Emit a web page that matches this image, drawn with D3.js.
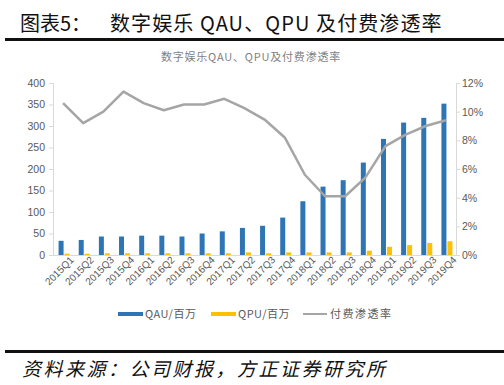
<!DOCTYPE html>
<html><head><meta charset="utf-8">
<script src="https://cdn.jsdelivr.net/npm/d3@7"></script>
<style>
body{margin:0;background:#fff;}
svg{display:block;}
</style></head>
<body>
<svg id="c" width="504" height="385"></svg>
<script>
const categories=["2015Q1","2015Q2","2015Q3","2015Q4","2016Q1","2016Q2","2016Q3","2016Q4","2017Q1","2017Q2","2017Q3","2017Q4","2018Q1","2018Q2","2018Q3","2018Q4","2019Q1","2019Q2","2019Q3","2019Q4"];
const qau=[33,35,43,43,45,45,43,50,55,63,68,87,125,159,174,215,270,308,319,352];
const qpu=[3,3,4,4,4,4,4,4,4,6,4,6,6,6,6,10,19,23,28,32];
const rate=[10.6,9.2,10.0,11.4,10.6,10.1,10.5,10.5,10.9,10.25,9.45,8.2,5.6,4.1,4.1,5.4,7.6,8.4,9.0,9.4];
const leftTicks=[0,50,100,150,200,250,300,350,400];
const rightTicks=[0,2,4,6,8,10,12];

const svg=d3.select("#c");
const font="'Noto Sans CJK SC','Liberation Sans',sans-serif";
const L=53,R=456,T=83,B=255;

// header
svg.append("text").attr("x",20).attr("y",31).attr("font-family",font).attr("font-size",20)
  .attr("fill","#111").text("图表5：");
svg.append("text").attr("x",110).attr("y",31).attr("font-family",font).attr("font-size",20)
  .attr("letter-spacing",1.1).attr("fill","#111").text("数字娱乐 QAU、QPU 及付费渗透率");
svg.append("rect").attr("x",5).attr("y",38).attr("width",499).attr("height",3).attr("fill","#111");

svg.append("text").attr("x",251).attr("y",61).attr("text-anchor","middle").attr("font-family",font)
  .attr("font-size",11).attr("letter-spacing",0.8).attr("fill","#7f7f7f").text("数字娱乐QAU、QPU及付费渗透率");

const x=d3.scaleBand().domain(categories).range([L,R]);
const y=d3.scaleLinear().domain([0,400]).range([B,T]);
const y2=d3.scaleLinear().domain([0,12]).range([B,T]);
const bw=5;

// axes
const gl=svg.append("g").attr("transform",`translate(${L},0)`)
  .call(d3.axisLeft(y).tickValues(leftTicks).tickSize(4).tickPadding(4));
gl.select(".domain").attr("stroke","#d9d9d9");
gl.selectAll(".tick line").attr("stroke","#d9d9d9");
gl.selectAll("text").attr("fill","#595959").attr("font-size",10.5).attr("font-family","'Liberation Sans',Arial,sans-serif");

const gr=svg.append("g").attr("transform",`translate(${R},0)`)
  .call(d3.axisRight(y2).tickValues(rightTicks).tickSize(4).tickPadding(2).tickFormat(d=>d+"%"));
gr.select(".domain").attr("stroke","#d9d9d9");
gr.selectAll(".tick line").attr("stroke","#d9d9d9");
gr.selectAll("text").attr("fill","#595959").attr("font-size",10.5).attr("font-family","'Liberation Sans',Arial,sans-serif");

const gx=svg.append("g").attr("transform",`translate(0,${B})`)
  .call(d3.axisBottom(x).tickSize(0).tickPadding(6));
gx.select(".domain").attr("stroke","#d9d9d9");
gx.selectAll("text").attr("fill","#595959").attr("font-size",10).attr("font-family","'Liberation Sans',Arial,sans-serif")
  .attr("text-anchor","end").attr("dx","0.4em").attr("dy","0.6em").attr("transform","rotate(-45)");

// bars
const cx=d=>x(d)+x.bandwidth()/2+1;
svg.append("g").selectAll("rect").data(qau).join("rect")
  .attr("x",(d,i)=>cx(categories[i])-bw-0.5).attr("width",bw)
  .attr("y",d=>y(d)).attr("height",d=>B-y(d)).attr("fill","#2e75b6");
svg.append("g").selectAll("rect").data(qpu).join("rect")
  .attr("x",(d,i)=>cx(categories[i])+0.5).attr("width",bw)
  .attr("y",d=>y(d)).attr("height",d=>B-y(d)).attr("fill","#ffc000");

// line
const line=d3.line().x((d,i)=>x(categories[i])+x.bandwidth()/2).y(d=>y2(d));
svg.append("path").datum(rate).attr("d",line).attr("fill","none").attr("stroke","#a5a5a5")
  .attr("stroke-width",2.5).attr("stroke-linejoin","round");

// legend
const lg=svg.append("g").attr("font-family",font).attr("font-size",11).attr("fill","#595959");
lg.append("rect").attr("x",118).attr("y",312).attr("width",25).attr("height",4).attr("fill","#2e75b6");
lg.append("text").attr("x",145).attr("y",318).attr("letter-spacing",0.5).text("QAU/百万");
lg.append("rect").attr("x",211).attr("y",312).attr("width",25).attr("height",4).attr("fill","#ffc000");
lg.append("text").attr("x",238).attr("y",318).attr("letter-spacing",0.5).text("QPU/百万");
lg.append("line").attr("x1",303).attr("x2",327).attr("y1",314).attr("y2",314).attr("stroke","#a5a5a5").attr("stroke-width",2);
lg.append("text").attr("x",330).attr("y",318).attr("letter-spacing",1.5).text("付费渗透率");

// footer
svg.append("rect").attr("x",5).attr("y",350).attr("width",499).attr("height",3).attr("fill","#111");
svg.append("text").attr("x",22).attr("y",376).attr("font-family",font).attr("font-size",19)
  .attr("font-style","italic").attr("letter-spacing",2.5).attr("fill","#111").text("资料来源：公司财报，方正证券研究所");
</script>
</body></html>
